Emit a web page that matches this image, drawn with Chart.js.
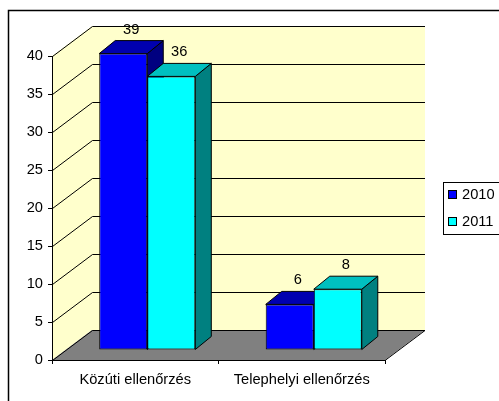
<!DOCTYPE html>
<html><head><meta charset="utf-8">
<script src="https://cdn.jsdelivr.net/npm/chart.js@4/dist/chart.umd.min.js"></script>
<style>html,body{margin:0;padding:0;background:#fff;overflow:hidden}</style>
</head><body>
<canvas id="c" width="499" height="401"></canvas>
<script>
const categories = ['Közúti ellenőrzés', 'Telephelyi ellenőrzés'];
const seriesNames = ['2010', '2011'];
const values2010 = [39, 6];
const values2011 = [36, 8];
const yMin = 0, yMax = 40, yStep = 5;

const frontColors = ['#0000FF', '#00FFFF'];
const topColors = ['#0000B0', '#00C0C0'];
const sideColors = ['#000080', '#008080'];

const WALL = {dx: 40, dy: -30};
const SHIFT = {dx: 12, dy: -10};
const DEPTH = {dx: 16, dy: -13};
const FONT = 'Arial, "Liberation Sans", sans-serif';
const FSIZE = 14.67;

Chart.defaults.font.family = FONT;
Chart.defaults.font.size = FSIZE;
Chart.defaults.color = '#000';

function poly(ctx, pts, fill, stroke) {
  ctx.beginPath();
  ctx.moveTo(pts[0][0], pts[0][1]);
  for (let i = 1; i < pts.length; i++) ctx.lineTo(pts[i][0], pts[i][1]);
  ctx.closePath();
  if (fill) { ctx.fillStyle = fill; ctx.fill(); }
  if (stroke) { ctx.strokeStyle = stroke; ctx.lineWidth = 1; ctx.stroke(); }
}

const threeD = {
  id: 'threeD',
  beforeDraw(chart) {
    const {ctx, chartArea: a, scales: {y}} = chart;
    ctx.save();
    ctx.strokeStyle = '#000';
    ctx.lineWidth = 1.5;
    ctx.strokeRect(8.5, 10.5, 700, 700);
    const L = a.left, R = a.right, T = a.top, B = a.bottom;
    poly(ctx, [[L, T], [L + WALL.dx, T + WALL.dy], [R + WALL.dx, T + WALL.dy], [R + WALL.dx, B + WALL.dy], [L + WALL.dx, B + WALL.dy], [L, B]], '#FFFFCC');
    poly(ctx, [[L, B], [R, B], [R + WALL.dx, B + WALL.dy], [L + WALL.dx, B + WALL.dy]], '#808080');
    ctx.strokeStyle = '#000';
    ctx.lineWidth = 1;
    for (let v = yMin; v <= yMax; v += yStep) {
      const yp = Math.round(y.getPixelForValue(v)) + 0.5;
      ctx.beginPath();
      ctx.moveTo(L + 0.5, yp);
      ctx.lineTo(L + WALL.dx + 0.5, yp + WALL.dy);
      ctx.lineTo(R + WALL.dx, yp + WALL.dy);
      ctx.stroke();
    }
    ctx.beginPath();
    ctx.moveTo(R, B + 0.5);
    ctx.lineTo(R + WALL.dx, B + WALL.dy + 0.5);
    ctx.stroke();
    ctx.restore();
  },
  beforeDatasetsDraw(chart) {
    const ctx = chart.ctx;
    ctx.save();
    const n = chart.data.labels.length;
    for (let i = 0; i < n; i++) {
      chart.data.datasets.forEach((ds, d) => {
        const el = chart.getDatasetMeta(d).data[i];
        const p = el.getProps(['x', 'y', 'base', 'width'], true);
        const l = p.x - p.width / 2 + SHIFT.dx, r = p.x + p.width / 2 + SHIFT.dx;
        const t = p.y + SHIFT.dy, b = p.base + SHIFT.dy;
        poly(ctx, [[r, b], [r, t], [r + DEPTH.dx, t + DEPTH.dy], [r + DEPTH.dx, b + DEPTH.dy]], sideColors[d], '#000');
        poly(ctx, [[l, t], [r, t], [r + DEPTH.dx, t + DEPTH.dy], [l + DEPTH.dx, t + DEPTH.dy]], topColors[d], '#000');
      });
    }
    ctx.restore();
    ctx.save();
    ctx.translate(SHIFT.dx, SHIFT.dy);
  },
  afterDatasetsDraw(chart) {
    const ctx = chart.ctx;
    ctx.restore();
    ctx.save();
    ctx.font = FSIZE + 'px ' + FONT;
    ctx.fillStyle = '#000';
    ctx.textAlign = 'center';
    ctx.textBaseline = 'middle';
    chart.data.datasets.forEach((ds, d) => {
      chart.getDatasetMeta(d).data.forEach((el, i) => {
        const p = el.getProps(['x', 'y'], true);
        ctx.fillText(String(ds.data[i]), p.x + SHIFT.dx + DEPTH.dx / 2, p.y + SHIFT.dy + DEPTH.dy - 11);
      });
    });
    ctx.restore();
  },
  afterDraw(chart) {
    const ctx = chart.ctx;
    ctx.save();
    ctx.strokeStyle = '#000';
    ctx.lineWidth = 1;
    ctx.fillStyle = '#fff';
    ctx.fillRect(443.5, 182.5, 70, 52);
    ctx.strokeRect(443.5, 182.5, 70, 52);
    ctx.font = FSIZE + 'px ' + FONT;
    ctx.textAlign = 'left';
    ctx.textBaseline = 'middle';
    chart.data.datasets.forEach((ds, d) => {
      const cy = 195 + d * 27;
      ctx.fillStyle = ds.backgroundColor;
      ctx.fillRect(448.5, cy - 4.5, 8, 8);
      ctx.strokeRect(448.5, cy - 4.5, 8, 8);
      ctx.fillStyle = '#000';
      ctx.fillText(ds.label, 462, cy);
    });
    ctx.restore();
  }
};

new Chart(document.getElementById('c'), {
  type: 'bar',
  data: {
    labels: categories,
    datasets: [
      {label: seriesNames[0], data: values2010, backgroundColor: frontColors[0], borderColor: '#000', borderWidth: 1, borderSkipped: false, clip: false},
      {label: seriesNames[1], data: values2011, backgroundColor: frontColors[1], borderColor: '#000', borderWidth: 1, borderSkipped: false, clip: false}
    ]
  },
  options: {
    responsive: false,
    devicePixelRatio: 1,
    animation: false,
    events: [],
    layout: {padding: {left: 0, top: 56, right: 114, bottom: 0}},
    datasets: {bar: {categoryPercentage: 0.577, barPercentage: 1}},
    plugins: {legend: {display: false}, tooltip: {enabled: false}},
    scales: {
      x: {
        grid: {display: true, drawOnChartArea: false, drawTicks: true, tickLength: 4, color: '#000', offset: true},
        border: {display: true, color: '#000'},
        ticks: {padding: 7, maxRotation: 0, autoSkip: false},
        afterFit(s) { s.height = 41; }
      },
      y: {
        min: yMin, max: yMax,
        grid: {display: true, drawOnChartArea: false, drawTicks: true, tickLength: 4, color: '#000'},
        border: {display: true, color: '#000'},
        ticks: {stepSize: yStep, padding: 5},
        afterFit(s) { s.width = 52; }
      }
    }
  },
  plugins: [threeD]
});
</script>
</body></html>
